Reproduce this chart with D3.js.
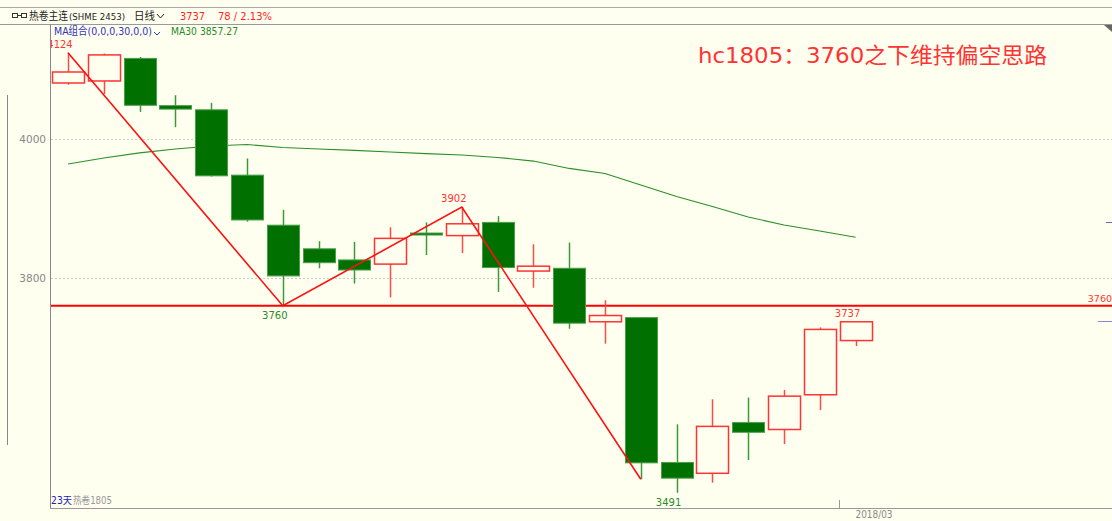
<!DOCTYPE html>
<html>
<head>
<meta charset="utf-8">
<script src="https://cdn.jsdelivr.net/npm/d3@7"></script>
<style>
  body { margin: 0; background: #fffff0; }
  svg { display: block; }
  text { font-family: "DejaVu Sans", "Noto Sans CJK SC", sans-serif; }
</style>
</head>
<body>
<div id="canvas"></div>
<script>
// daily candles, hc1805
const opens  = [4080.6, 4083.5, 4116, 4048, 4042, 3948, 3876, 3842, 3826, 3820, 3864.7, 3861, 3880, 3810, 3814, 3737, 3743, 3534.5, 3519, 3592, 3582, 3632, 3710];
const highs  = [4124, 4123, 4118, 4063, 4052, 3972, 3898, 3853, 3852, 3873, 3880, 3902, 3889, 3848.5, 3851, 3768, 3743, 3589.5, 3625.5, 3628, 3639, 3729, 3737];
const lows   = [4078, 4064.7, 4039, 4017, 3946, 3881, 3760, 3814, 3792, 3772, 3833, 3836, 3780, 3786, 3727, 3705.5, 3510.5, 3491, 3505.5, 3538, 3561, 3610, 3702];
const closes = [4096.4, 4121, 4048.5, 4043, 3947, 3883.5, 3803, 3822, 3811.5, 3857, 3863, 3878, 3815, 3817, 3735, 3746, 3534, 3512, 3586.5, 3578, 3630, 3726, 3737];
const ma30   = [3964, 3972.7, 3979.9, 3985.6, 3989.9, 3992.1, 3987.8, 3985.6, 3983.5, 3981.3, 3979.1, 3977, 3973.4, 3968.3, 3957.6, 3950.4, 3933.8, 3917.3, 3902.9, 3887.8, 3876.3, 3867.6, 3858.6];
const zigzag = [[0, 4124], [6, 3760], [11, 3902], [16, 3510.5]];
const extremes = [[0, 4124, "high"], [6, 3760, "low"], [11, 3902, "high"], [17, 3491, "low"], [22, 3737, "high"]];
const yTicks = [4000, 3800];
const supportLevel = 3760;
const timeTicks = [[21.55, "2018/03"]];

const W = 1112, H = 521;
const svg = d3.select("#canvas").append("svg").attr("width", W).attr("height", H);
svg.append("rect").attr("width", W).attr("height", H).attr("fill", "#fffff0");

const x = d3.scaleLinear().domain([0, 22]).range([68, 855.6]);
const y = d3.scaleLinear().domain([3800, 4000]).range([278, 139]);
const bodyW = 32;
const plotL = 50, plotT = 24, plotB = 508;

svg.append("defs").append("clipPath").attr("id", "plot")
  .append("rect").attr("x", plotL + 1).attr("y", plotT).attr("width", W - plotL).attr("height", plotB - plotT);

// frame
svg.append("line").attr("x1", 0).attr("x2", W).attr("y1", 7.5).attr("y2", 7.5).attr("stroke", "#aaa");
svg.append("line").attr("x1", 0).attr("x2", W).attr("y1", 24.5).attr("y2", 24.5).attr("stroke", "#999");
svg.append("line").attr("x1", plotL + 0.5).attr("x2", plotL + 0.5).attr("y1", plotT).attr("y2", plotB).attr("stroke", "#888");
svg.append("line").attr("x1", plotL).attr("x2", W).attr("y1", plotB + 0.5).attr("y2", plotB + 0.5).attr("stroke", "#999");
svg.append("line").attr("x1", 7.5).attr("x2", 7.5).attr("y1", 95).attr("y2", 445).attr("stroke", "#888");
svg.append("path").attr("d", `M${W - 8},${plotT + 1}L${W},${plotT + 1}L${W},${plotT + 8}Z`).attr("fill", "#666");

// grid + y labels
const grid = svg.append("g");
yTicks.forEach(v => {
  grid.append("line").attr("x1", plotL + 1).attr("x2", W).attr("y1", Math.round(y(v)) + 0.5).attr("y2", Math.round(y(v)) + 0.5)
    .attr("stroke", "#ccc").attr("stroke-dasharray", "2,2");
  grid.append("text").attr("x", 46).attr("y", y(v) + 4).attr("text-anchor", "end")
    .attr("font-size", 10.5).attr("fill", "#888").text(v);
});

const g = svg.append("g").attr("clip-path", "url(#plot)");

// support line
g.append("line").attr("x1", plotL).attr("x2", W).attr("y1", y(supportLevel)).attr("y2", y(supportLevel))
  .attr("stroke", "#ff0000").attr("stroke-width", 2);
svg.append("text").attr("x", W).attr("y", y(supportLevel) - 4).attr("text-anchor", "end")
  .attr("font-size", 9.5).attr("fill", "#ff3333").text(supportLevel);

// right-edge marks
svg.append("line").attr("x1", 1106).attr("x2", W).attr("y1", 222.5).attr("y2", 222.5).attr("stroke", "#6666aa");
svg.append("line").attr("x1", 1098).attr("x2", W).attr("y1", 321.5).attr("y2", 321.5).attr("stroke", "#8888cc");

// MA30
g.append("path").datum(ma30)
  .attr("d", d3.line().x((d, i) => x(i)).y(d => y(d)))
  .attr("fill", "none").attr("stroke", "#2a8f2a").attr("stroke-width", 1.2);

// candles
const candles = g.selectAll(".candle").data(opens).enter().append("g");
candles.append("line")
  .attr("x1", (d, i) => Math.round(x(i)) + 0.5).attr("x2", (d, i) => Math.round(x(i)) + 0.5)
  .attr("y1", (d, i) => y(highs[i])).attr("y2", (d, i) => y(lows[i]))
  .attr("stroke", (d, i) => closes[i] > opens[i] ? "#ff4a4a" : "#3a9a3a").attr("stroke-width", 1.5);
candles.append("rect")
  .attr("x", (d, i) => Math.round(x(i) - bodyW / 2) + 0.5)
  .attr("y", (d, i) => y(Math.max(opens[i], closes[i])))
  .attr("width", bodyW)
  .attr("height", (d, i) => Math.max(2, Math.abs(y(opens[i]) - y(closes[i]))))
  .attr("fill", (d, i) => closes[i] > opens[i] ? "#fffff0" : "#007000")
  .attr("stroke", (d, i) => closes[i] > opens[i] ? "#ff3333" : "#4a9f4a")
  .attr("stroke-width", (d, i) => closes[i] > opens[i] ? 1.5 : 1);

// zigzag
g.append("path").datum(zigzag)
  .attr("d", d3.line().x(d => x(d[0])).y(d => y(d[1])))
  .attr("fill", "none").attr("stroke", "#ff1010").attr("stroke-width", 1.6);

// extreme labels
g.selectAll(".ext").data(extremes).enter().append("text")
  .attr("x", d => x(d[0]) - 8)
  .attr("y", d => d[2] === "high" ? y(d[1]) - 5 : y(d[1]) + 13)
  .attr("text-anchor", "middle").attr("font-size", 10)
  .attr("fill", d => d[2] === "high" ? "#ff3333" : "#2a8a2a")
  .text(d => d[1]);

// time axis
timeTicks.forEach(t => {
  svg.append("line").attr("x1", Math.round(x(t[0])) + 0.5).attr("x2", Math.round(x(t[0])) + 0.5)
    .attr("y1", plotB - 8).attr("y2", plotB).attr("stroke", "#999");
  svg.append("text").attr("x", x(t[0]) + 16).attr("y", 518).attr("font-size", 10)
    .attr("textLength", 37).attr("lengthAdjust", "spacingAndGlyphs").attr("fill", "#888").text(t[1]);
});

// header
const fit = (sel, len) => sel.attr("textLength", len).attr("lengthAdjust", "spacingAndGlyphs");
const hdr = svg.append("g").attr("font-size", 11);
hdr.append("rect").attr("x", 12.5).attr("y", 13.5).attr("width", 5).attr("height", 4).attr("fill", "none").attr("stroke", "#333");
hdr.append("rect").attr("x", 21.5).attr("y", 13.5).attr("width", 5).attr("height", 4).attr("fill", "none").attr("stroke", "#333");
hdr.append("line").attr("x1", 17).attr("x2", 22).attr("y1", 15.5).attr("y2", 15.5).attr("stroke", "#333");
fit(hdr.append("text").attr("x", 29).attr("y", 20).attr("fill", "#222").attr("font-family", "Noto Sans CJK SC").text("热卷主连"), 39);
fit(hdr.append("text").attr("x", 69).attr("y", 20).attr("fill", "#222").attr("font-size", 9.5).text("(SHME 2453)"), 56);
fit(hdr.append("text").attr("x", 134).attr("y", 20).attr("fill", "#222").attr("font-family", "Noto Sans CJK SC").text("日线"), 21);
hdr.append("path").attr("d", "M157,14L160.5,18L164,14").attr("fill", "none").attr("stroke", "#222");
fit(hdr.append("text").attr("x", 180).attr("y", 20).attr("fill", "#ff2222").text("3737"), 25);
fit(hdr.append("text").attr("x", 218).attr("y", 20).attr("fill", "#ff2222").text("78 / 2.13%"), 54);

fit(svg.append("text").attr("x", 54).attr("y", 35).attr("fill", "#3333bb").attr("font-size", 11)
  .attr("font-family", "Noto Sans CJK SC").text("MA组合(0,0,0,30,0,0)"), 98);
svg.append("path").attr("d", "M154,32L157,35L160,32").attr("fill", "none").attr("stroke", "#3333bb");
fit(svg.append("text").attr("x", 171).attr("y", 35).attr("fill", "#2a8a2a").attr("font-size", 11).text("MA30 3857.27"), 67);

fit(svg.append("text").attr("x", 698).attr("y", 63).attr("fill", "#ff3333").attr("font-size", 22)
  .attr("font-family", "Noto Sans CJK SC").text("hc1805：3760之下维持偏空思路"), 349);

fit(svg.append("text").attr("x", 51).attr("y", 504).attr("fill", "#2222bb").attr("font-size", 10)
  .attr("font-family", "Noto Sans CJK SC").text("23天"), 21);
fit(svg.append("text").attr("x", 73).attr("y", 504).attr("fill", "#999").attr("font-size", 10)
  .attr("font-family", "Noto Sans CJK SC").text("热卷1805"), 39);
</script>
</body>
</html>
